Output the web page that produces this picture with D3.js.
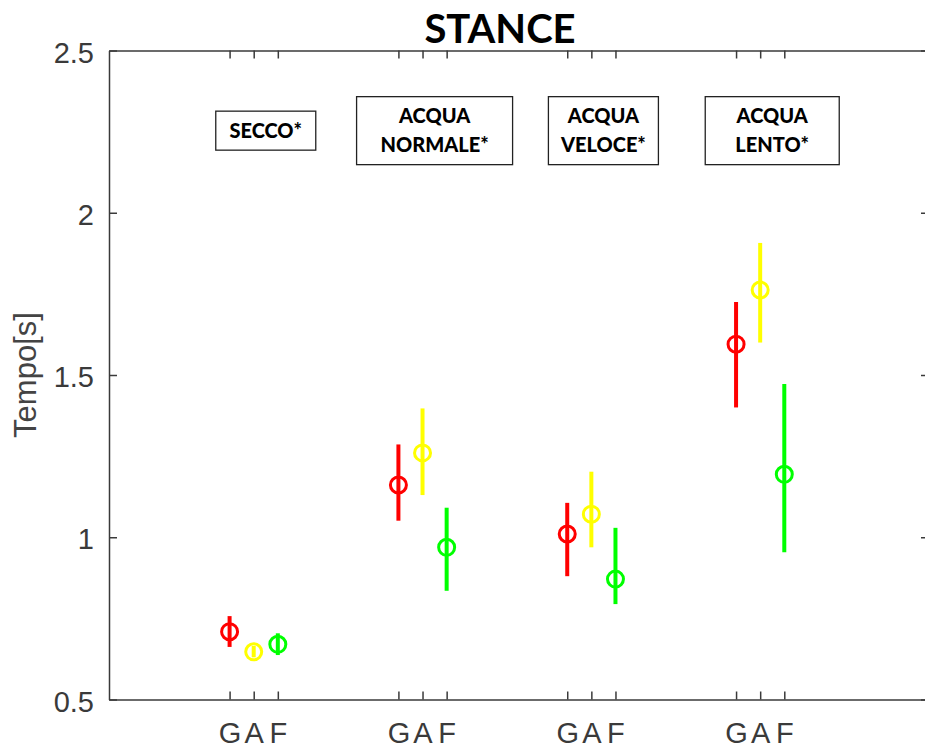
<!DOCTYPE html>
<html>
<head>
<meta charset="utf-8">
<script src="https://cdn.jsdelivr.net/npm/d3@7"></script>
<style>
  html, body { margin: 0; background: #fff; overflow: hidden; }
  svg { display: block; }
  .axis path, .axis line { stroke: #3a3a3a; stroke-width: 1.5; }
  .axis text { fill: #3a3a3a; font-family: "Liberation Sans", Arial, sans-serif; font-size: 29px; }
</style>
</head>
<body>
<div id="chart"></div>
<script>
/* DATA */
const conditions = [["SECCO*"], ["ACQUA", "NORMALE*"], ["ACQUA", "VELOCE*"], ["ACQUA", "LENTO*"]];
const subjects = ["G", "A", "F"];
const colors = ["#ff0000", "#ffff00", "#00ff00"];

// mean and error bar ends, one value per condition
const meanG = [0.709, 1.161, 1.010, 1.595];
const lowG = [0.662, 1.051, 0.880, 1.400];
const highG = [0.757, 1.286, 1.106, 1.725];

const meanA = [0.647, 1.260, 1.071, 1.762];
const lowA = [0.630, 1.130, 0.969, 1.600];
const highA = [0.665, 1.397, 1.202, 1.907];

const meanF = [0.670, 0.969, 0.871, 1.194];
const lowF = [0.637, 0.835, 0.794, 0.954];
const highF = [0.704, 1.091, 1.029, 1.472];

const yTicks = [0.5, 1, 1.5, 2, 2.5];

/* LAYOUT */
const width = 925,
  height = 749,
  plot = { left: 109, right: 929, top: 50.5, bottom: 699.5 },
  boxWidths = [100, 156, 110, 134],
  tickLen = 8;

const series = [
  { mean: meanG, low: lowG, high: highG },
  { mean: meanA, low: lowA, high: highA },
  { mean: meanF, low: lowF, high: highF }
];

// one row per point
const points = [];
conditions.forEach((c, ci) => {
  series.forEach((s, si) => {
    points.push({
      x: ci * 7 + si + 1,
      mean: s.mean[ci],
      low: s.low[ci],
      high: s.high[ci],
      color: colors[si]
    });
  });
});

const xScale = d3.scaleLinear().domain([-4, 30]).range([plot.left, plot.right]);
const yScale = d3.scaleLinear().domain([0.5, 2.5]).range([plot.bottom, plot.top]);

const svg = d3.select("#chart")
  .append("svg")
  .attr("width", width)
  .attr("height", height);

const xTickVals = points.map(d => d.x);
const xLabel = (d, i) => subjects[i % 3];

// bottom axis with single letter labels
svg.append("g")
  .attr("class", "axis")
  .attr("transform", `translate(0,${plot.bottom})`)
  .call(d3.axisBottom(xScale).tickValues(xTickVals).tickFormat(xLabel)
    .tickSizeInner(-tickLen).tickSizeOuter(0).tickPadding(23));

svg.append("g")
  .attr("class", "axis")
  .attr("transform", `translate(0,${plot.top})`)
  .call(d3.axisTop(xScale).tickValues(xTickVals).tickFormat("")
    .tickSizeInner(-tickLen).tickSizeOuter(0));

svg.append("g")
  .attr("class", "axis")
  .attr("transform", `translate(${plot.left},0)`)
  .call(d3.axisLeft(yScale).tickValues(yTicks).tickFormat(d3.format("~g"))
    .tickSizeInner(-tickLen).tickSizeOuter(0).tickPadding(15))
  .selectAll("text").attr("dy", "0.4em");

// right side: the box edge is cropped off, only the inward ticks show
svg.append("g")
  .attr("class", "axis")
  .attr("transform", `translate(${plot.right},0)`)
  .call(d3.axisRight(yScale).tickValues(yTicks).tickFormat("")
    .tickSizeInner(-tickLen).tickSizeOuter(0))
  .select(".domain").remove();

// y label
svg.append("text")
  .attr("transform", `translate(36,${(plot.top + plot.bottom) / 2}) rotate(-90)`)
  .attr("text-anchor", "middle")
  .attr("fill", "#444")
  .attr("font-family", "Liberation Sans, Arial, sans-serif")
  .attr("font-size", 31)
  .text("Tempo[s]");

// title
svg.append("text")
  .attr("x", 500)
  .attr("y", 43)
  .attr("text-anchor", "middle")
  .attr("font-family", "Lato, sans-serif")
  .attr("font-weight", "bold")
  .attr("font-size", 40)
  .text("STANCE");

// error bars
svg.selectAll(".err")
  .data(points)
  .join("line")
  .attr("class", "err")
  .attr("x1", d => xScale(d.x))
  .attr("x2", d => xScale(d.x))
  .attr("y1", d => yScale(d.low))
  .attr("y2", d => yScale(d.high))
  .attr("stroke", d => d.color)
  .attr("stroke-width", 4);

// open circle markers
svg.selectAll(".dot")
  .data(points)
  .join("circle")
  .attr("class", "dot")
  .attr("cx", d => xScale(d.x))
  .attr("cy", d => yScale(d.mean))
  .attr("r", 8)
  .attr("fill", "none")
  .attr("stroke", d => d.color)
  .attr("stroke-width", 3);

// condition label boxes, centred between A and F of each group
const lineH = 28.7;
const boxY = yScale(2.253);
const labels = svg.selectAll(".cond")
  .data(conditions)
  .join("g")
  .attr("class", "cond")
  .attr("transform", (d, i) => `translate(${xScale(i * 7 + 2.5)},${boxY})`);

labels.append("rect")
  .attr("x", (d, i) => -boxWidths[i] / 2)
  .attr("y", d => d.length === 1 ? -19.5 : -34)
  .attr("width", (d, i) => boxWidths[i])
  .attr("height", d => d.length === 1 ? 39 : 68)
  .attr("fill", "#fff")
  .attr("stroke", "#222")
  .attr("stroke-width", 1.3);

labels.selectAll("text")
  .data(d => d.map((t, j) => ({ t, y: (j - (d.length - 1) / 2) * lineH + 7 })))
  .join("text")
  .attr("y", d => d.y)
  .attr("text-anchor", "middle")
  .attr("font-family", "Lato, sans-serif")
  .attr("font-weight", 900)
  .attr("font-size", 20)
  .text(d => d.t);
</script>
</body>
</html>
